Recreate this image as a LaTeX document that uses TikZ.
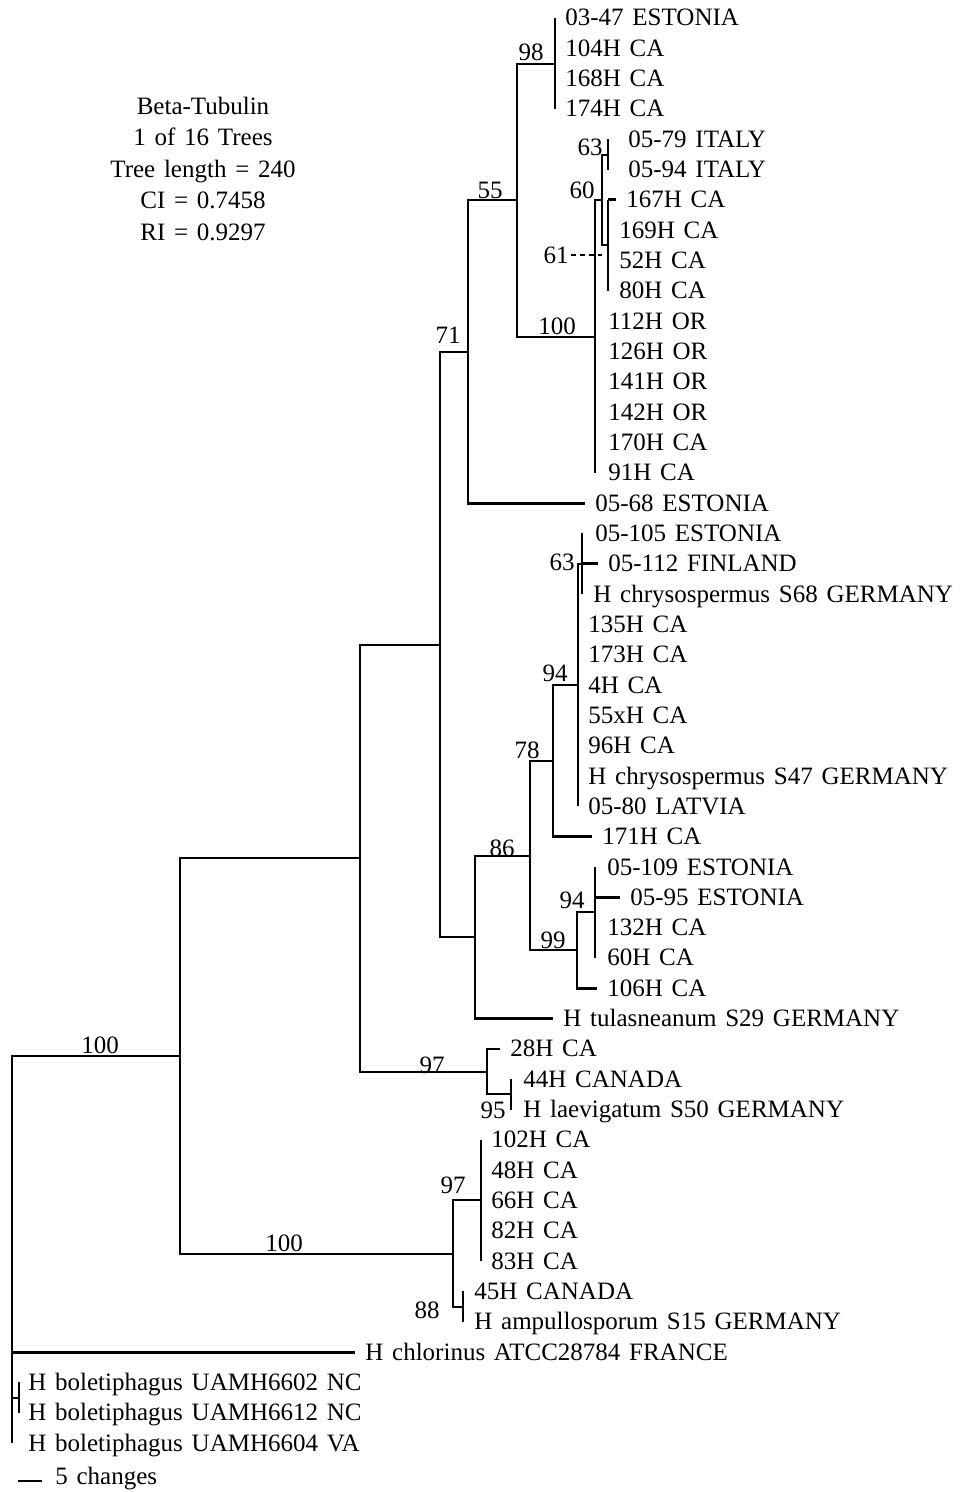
\documentclass[tikz,border=0pt]{standalone}
\usepackage{fontspec}
\setmainfont[WordSpace={1.4,1,1}]{Liberation Serif}
\usetikzlibrary{positioning}

\begin{document}
\begin{tikzpicture}[x=0.5pt,y=-0.5pt,
    b/.style={line width=1.4pt},%
    lb/.style={b,shorten >=5pt},%
    lf/.style={anchor=base west,inner sep=0pt,text height=8pt,text depth=0pt},%
    sp/.style={inner sep=0pt},%
    font=\fontsize{12.5}{14}\selectfont]
\useasboundingbox (0,0) rectangle (966,1492);

\node[align=center,font=\fontsize{12.5}{15.75}\selectfont] (info) at (203,169) {Beta-Tubulin\\1 of 16 Trees\\Tree length = 240\\CI = 0.7458\\RI = 0.9297};

% leaves
\node[lf] (l1) at (565,26) {03-47 ESTONIA};
\node[lf] (l2) at (565,56.3) {104H CA};
\node[lf] (l3) at (565,86.6) {168H CA};
\node[lf] (l4) at (565,117) {174H CA};
\node[lf] (l5) at (628,147.3) {05-79 ITALY};
\node[lf] (l6) at (628,177.6) {05-94 ITALY};
\node[lf] (l7) at (626,207.9) {167H CA};
\node[lf] (l8) at (619,238.2) {169H CA};
\node[lf] (l9) at (619,268.6) {52H CA};
\node[lf] (l10) at (619,298.9) {80H CA};
\node[lf] (l11) at (608,329.2) {112H OR};
\node[lf] (l12) at (608,359.5) {126H OR};
\node[lf] (l13) at (608,389.8) {141H OR};
\node[lf] (l14) at (608,420.2) {142H OR};
\node[lf] (l15) at (608,450.5) {170H CA};
\node[lf] (l16) at (608,480.8) {91H CA};
\node[lf] (l17) at (595,511.1) {05-68 ESTONIA};
\node[lf] (l18) at (595,541.4) {05-105 ESTONIA};
\node[lf] (l19) at (608,571.8) {05-112 FINLAND};
\node[lf] (l20) at (593,602.1) {H chrysospermus S68 GERMANY};
\node[lf] (l21) at (588,632.4) {135H CA};
\node[lf] (l22) at (588,662.7) {173H CA};
\node[lf] (l23) at (588,693) {4H CA};
\node[lf] (l24) at (588,723.4) {55xH CA};
\node[lf] (l25) at (588,753.7) {96H CA};
\node[lf] (l26) at (588,784) {H chrysospermus S47 GERMANY};
\node[lf] (l27) at (588,814.3) {05-80 LATVIA};
\node[lf] (l28) at (602,844.6) {171H CA};
\node[lf] (l29) at (607,875) {05-109 ESTONIA};
\node[lf] (l30) at (630,905.3) {05-95 ESTONIA};
\node[lf] (l31) at (607,935.6) {132H CA};
\node[lf] (l32) at (607,965.9) {60H CA};
\node[lf] (l33) at (607,996.2) {106H CA};
\node[lf] (l34) at (563,1026.6) {H tulasneanum S29 GERMANY};
\node[lf] (l35) at (510,1056.9) {28H CA};
\node[lf] (l36) at (523,1087.2) {44H CANADA};
\node[lf] (l37) at (523,1117.5) {H laevigatum S50 GERMANY};
\node[lf] (l38) at (491,1147.8) {102H CA};
\node[lf] (l39) at (491,1178.2) {48H CA};
\node[lf] (l40) at (491,1208.5) {66H CA};
\node[lf] (l41) at (491,1238.8) {82H CA};
\node[lf] (l42) at (491,1269.1) {83H CA};
\node[lf] (l43) at (474,1299.4) {45H CANADA};
\node[lf] (l44) at (474,1329.8) {H ampullosporum S15 GERMANY};
\node[lf] (l45) at (365,1360.1) {H chlorinus ATCC28784 FRANCE};
\node[lf] (l46) at (28,1390.4) {H boletiphagus UAMH6602 NC};
\node[lf] (l47) at (28,1420.7) {H boletiphagus UAMH6612 NC};
\node[lf] (l48) at (28,1451) {H boletiphagus UAMH6604 VA};

% internal nodes
\coordinate (nR) at (12,1250);
\coordinate (nI) at (180,1056);
\coordinate (nA) at (360,858);
\coordinate (nB) at (440,645);
\coordinate (n71) at (468,352);
\coordinate (n55) at (517,200);
\coordinate (n98) at (555,64);
\coordinate (n100a) at (595,337);
\coordinate (n60) at (602,200);
\coordinate (n63) at (608,155);
\coordinate (n61) at (608,245);
\coordinate (n86p) at (475,937);
\coordinate (n86) at (530,856);
\coordinate (n78) at (553,761);
\coordinate (n94a) at (578,685);
\coordinate (n63b) at (582,564);
\coordinate (n99) at (577,950);
\coordinate (n94b) at (595,912);
\coordinate (n97a) at (487,1072);
\coordinate (n95) at (511,1094);
\coordinate (n100b) at (453,1254);
\coordinate (n97b) at (481,1200);
\coordinate (n88) at (463,1307);
\coordinate (nBo) at (19,1398);

% branches
\draw[b] (nI) -- (nI -| nR) -- (nR |- l48.west);
\draw[lb] (nR |- l45.west) -- (l45.west);
\draw[b] (nR |- nBo) -- (nBo);
\draw[b] (nBo |- l46.west) -- (nBo |- l47.west);
\draw[b] (nA) -| (nI) |- (n100b);
\draw[b] (nB) -| (nA) |- (n97a);
\draw[b] (n71) -| (nB) |- (n86p);
\draw[lb] (n55) -| (n71) |- (l17.west);
\draw[b] (n98) -| (n55) |- (n100a);
\draw[b] (n98 |- l1.west) -- (n98 |- l4.west);
\draw[b] (n60) -- (n60 -| n100a) -- (n100a |- l16.west);
\draw[b] (n63) -| (n60) |- (n61);
\draw[b] (n63 |- l5.west) -- (n63 |- l6.west);
\draw[b] (n61 |- l7.west) -- (n61 |- l10.west);
\draw[lb] (n61 |- l7.west) -- (l7.west);
\draw[lb] (n86) -| (n86p) |- (l34.west);
\draw[b] (n78) -| (n86) |- (n99);
\draw[lb] (n94a) -| (n78) |- (l28.west);
\draw[b] (n63b) -- (n63b -| n94a) -- (n94a |- l27.west);
\draw[b] (n63b |- l18.west) -- (n63b |- l20.west);
\draw[lb] (n63b |- l19.west) -- (l19.west);
\draw[lb] (n94b) -| (n99) |- (l33.west);
\draw[b] (n94b |- l29.west) -- (n94b |- l32.west);
\draw[lb] (n94b |- l30.west) -- (l30.west);
\draw[lb] (n95) -| (n97a) |- (l35.west);
\draw[b] (n95 |- l36.west) -- (n95 |- l37.west);
\draw[b] (n97b) -| (n100b) |- (n88);
\draw[b] (n97b |- l38.west) -- (n97b |- l42.west);
\draw[b] (n88 |- l43.west) -- (n88 |- l44.west);

% support values
\node[sp] (s100r) at (100,1045) {100};
\node[sp] (s100b) at (284,1243) {100};
\node[sp] (s97a) at (432,1065) {97};
\node[sp] (s71) at (448,335) {71};
\node[sp] (s55) at (490,190) {55};
\node[sp] (s98) at (531,52) {98};
\node[sp] (s100a) at (557,326) {100};
\node[sp] (s63) at (590,147) {63};
\node[sp] (s60) at (582,190) {60};
\node[sp] (s61) at (556,255) {61};
\node[sp] (s63b) at (562,562) {63};
\node[sp] (s94a) at (555,673) {94};
\node[sp] (s78) at (527,750) {78};
\node[sp] (s86) at (502,848) {86};
\node[sp] (s94b) at (572,900) {94};
\node[sp] (s99) at (553,940) {99};
\node[sp] (s95) at (493,1110) {95};
\node[sp] (s97b) at (453,1185) {97};
\node[sp] (s88) at (427,1310) {88};
\draw[b,dash pattern=on 2.5pt off 2pt] ([xshift=1pt]s61.east) -- (s61.east -| n60);

% scale bar
\coordinate (sb) at (18,1481);
\node[lf] (sc) at (55,1484) {5 changes};
\draw[b] (sb) -- ++(24,0);
\end{tikzpicture}
\end{document}
